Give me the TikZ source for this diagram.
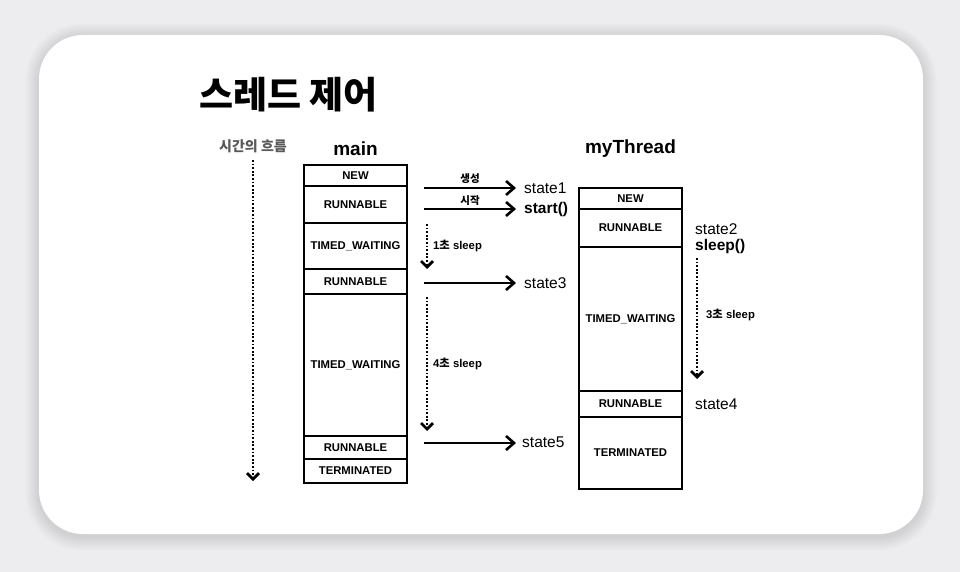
\documentclass[tikz,border=0pt]{standalone}
\usepackage{fontspec}
\setmainfont{Liberation Sans}
\newfontfamily\kr{Noto Sans CJK KR}
\usetikzlibrary{arrows.meta}

\definecolor{bggray}{HTML}{EDEDEF}
\definecolor{labelgray}{HTML}{5A5A5A}

\tikzset{
  rowbox/.style={draw, line width=2pt, minimum width=103pt, inner sep=0pt, anchor=north, font=\bfseries\fontsize{11.3}{12}\selectfont},
  flow/.style={line width=1.8pt, -{Straight Barb[length=8pt,width=14pt,line width=2.6pt]}},
  wait/.style={line width=1.8pt, dash pattern=on 1.8pt off 1.8pt, -{Straight Barb[length=6pt,width=12pt,line width=2.8pt]}},
  statelbl/.style={anchor=west, inner sep=0pt, font=\fontsize{15.5}{17}\selectfont},
  steplbl/.style={inner sep=0pt, font=\bfseries\fontsize{11.3}{12}\selectfont}
}

\begin{document}
\begin{tikzpicture}[x=1pt, y=-1pt]
  \useasboundingbox (0,0) rectangle (960,572);
  % background, soft shadow and card
  \fill[bggray] (0,0) rectangle (960,572);
  \foreach \d in {1,...,14}
    \fill[black, opacity=0.006, rounded corners=44pt+\d pt] (39-\d,37-\d) rectangle (923+\d,537+\d);
  \fill[white, rounded corners=44pt] (39,35) rectangle (923,534);

  % title and headers
  \node[anchor=west, inner sep=0pt, font=\kr\bfseries\fontsize{37}{40}\selectfont] (title) at (199,95) {스레드 제어};
  \node[inner sep=0pt, text=labelgray, font=\kr\bfseries\fontsize{14}{16}\selectfont] (lblTime) at (253,146) {시간의 흐름};
  \node[inner sep=0pt, font=\bfseries\fontsize{19}{21}\selectfont] (lblMain) at (355.5,149) {main};
  \node[inner sep=0pt, font=\bfseries\fontsize{19}{21}\selectfont] (lblThread) at (630.5,149) {myThread};

  % time axis
  \coordinate (t0) at (253,160);
  \coordinate (t1) at (253,481);
  \draw[wait] (t0) -- (t1);

  % main thread states
  \node[rowbox, minimum height=21pt] (mNew) at (355.5,164) {NEW};
  \node[rowbox, minimum height=37pt] (mRun1) at (355.5,185) {RUNNABLE};
  \node[rowbox, minimum height=46pt] (mWait1) at (355.5,222) {TIMED\_WAITING};
  \node[rowbox, minimum height=25pt] (mRun2) at (355.5,268) {RUNNABLE};
  \node[rowbox, minimum height=142pt] (mWait2) at (355.5,293) {TIMED\_WAITING};
  \node[rowbox, minimum height=23pt] (mRun3) at (355.5,435) {RUNNABLE};
  \node[rowbox, minimum height=24pt] (mTerm) at (355.5,458) {TERMINATED};

  % myThread states
  \node[rowbox, minimum height=21pt] (tNew) at (630.5,187) {NEW};
  \node[rowbox, minimum height=38pt] (tRun1) at (630.5,208) {RUNNABLE};
  \node[rowbox, minimum height=144pt] (tWait) at (630.5,246) {TIMED\_WAITING};
  \node[rowbox, minimum height=26pt] (tRun2) at (630.5,390) {RUNNABLE};
  \node[rowbox, minimum height=72pt] (tTerm) at (630.5,416) {TERMINATED};

  % state labels
  \node[statelbl] (st1) at (524,188) {state1};
  \node[statelbl, font=\bfseries\fontsize{15.5}{17}\selectfont] (start) at (524,209) {start()};
  \node[statelbl] (st3) at (524,283) {state3};
  \node[statelbl] (st5) at (522,442) {state5};
  \node[statelbl] (st2) at (695,229) {state2};
  \node[statelbl, font=\bfseries\fontsize{15.5}{17}\selectfont] (sleep) at (695,246) {sleep()};
  \node[statelbl] (st4) at (695,404) {state4};

  % transitions from main
  \coordinate (a1) at (424,188);
  \coordinate (a2) at (424,209);
  \coordinate (a3) at (424,283);
  \coordinate (a5) at (424,443);
  \draw[flow] (a1) -- ([xshift=-8pt]st1.west |- a1) node[midway, above=4pt, steplbl, font=\kr\bfseries\fontsize{10.5}{11}\selectfont] (lblNew) {생성};
  \draw[flow] (a2) -- ([xshift=-8pt]start.west |- a2) node[midway, above=3pt, steplbl, font=\kr\bfseries\fontsize{10.5}{11}\selectfont] (lblStart) {시작};
  \draw[flow] (a3) -- ([xshift=-8pt]st3.west |- a3);
  \draw[flow] (a5) -- ([xshift=-6pt]st5.west |- a5);

  % sleeps
  \coordinate (w1a) at (427,224);
  \coordinate (w1b) at (427,269);
  \coordinate (w4a) at (427,297);
  \coordinate (w4b) at (427,431);
  \coordinate (w3a) at (697,258);
  \coordinate (w3b) at (697,379);
  \draw[wait] (w1a) -- (w1b);
  \draw[wait] (w4a) -- (w4b);
  \draw[wait] (w3a) -- (w3b);
  \node[steplbl, anchor=west] (sl1) at (433,246) {1{\kr 초} sleep};
  \node[steplbl, anchor=west] (sl4) at (433,364) {4{\kr 초} sleep};
  \node[steplbl, anchor=west] (sl3) at (706,315) {3{\kr 초} sleep};
\end{tikzpicture}
\end{document}
